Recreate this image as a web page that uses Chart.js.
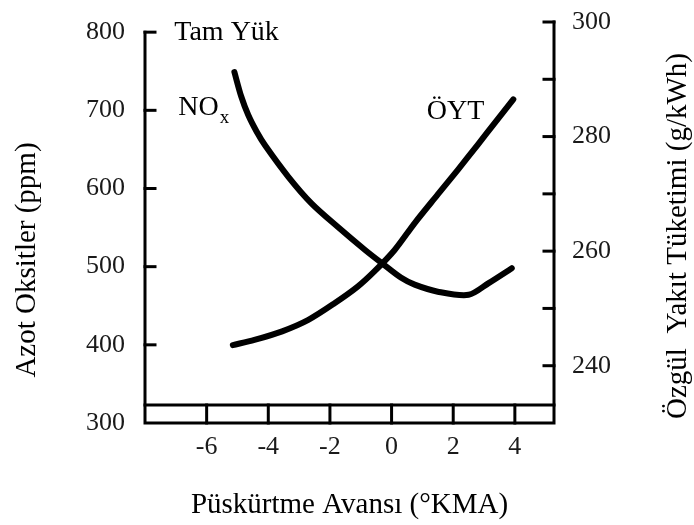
<!DOCTYPE html>
<html>
<head>
<meta charset="utf-8">
<script src="https://cdn.jsdelivr.net/npm/chart.js@4.4.1/dist/chart.umd.min.js"></script>
<style>
  html, body { margin: 0; padding: 0; background: #fff; }
  #wrap { width: 694px; height: 525px; }
</style>
</head>
<body>
<div id="wrap"><canvas id="c" width="694" height="525"></canvas></div>
<script>
// ---- data ----
const xNox = [-5.1, -4.88, -4.65, -4.38, -4.1, -3.35, -2.6, -1.75, -0.85, -0.3, 0.3, 0.75, 1.5, 2.5, 3.15, 3.9];
const nox  = [749, 718, 694, 673, 655, 615, 581, 551, 521, 504, 486, 477, 468, 464, 479, 498];
const xOyt = [-5.15, -4.45, -3.55, -2.7, -1.85, -1.1, -0.55, 0.1, 0.75, 1.5, 2.15, 2.8, 3.35, 3.95];
const oyt  = [243.6, 244.5, 246.0, 248.0, 250.9, 253.8, 256.5, 260.2, 264.9, 269.9, 274.2, 278.6, 282.4, 286.5];

const xTicks      = [-6, -4, -2, 0, 2, 4];
const leftTicks   = [300, 400, 500, 600, 700, 800];
const rightTicks  = [240, 260, 280, 300];
const rightMinor  = [240, 250, 260, 270, 280, 290, 300];

const xTitle = 'Püskürtme Avansı (°KMA)';
const leftTitle = 'Azot Oksitler (ppm)';
const rightTitle = 'Özgül  Yakıt Tüketimi (g/kWh)';
const loadLabel = 'Tam Yük';
const noxLabel = 'NO';
const noxSub = 'x';
const oytLabel = 'ÖYT';

// ---- chart ----
const FONT = '"Liberation Serif", "Times New Roman", serif';
Chart.defaults.font.family = FONT;
Chart.defaults.color = '#1a1a1a';

const toPts = (xs, ys) => xs.map((x, i) => ({ x: x, y: ys[i] }));

const framePlugin = {
  id: 'frame',
  afterDatasetsDraw(chart) {
    const ctx = chart.ctx;
    const xs = chart.scales.x, yl = chart.scales.yL, yr = chart.scales.yR;
    const ca = chart.chartArea;
    ctx.save();
    ctx.strokeStyle = '#000';
    ctx.lineCap = 'square';
    ctx.lineWidth = 3;
    // axis lines
    ctx.beginPath();
    ctx.moveTo(ca.left, yl.getPixelForValue(800));
    ctx.lineTo(ca.left, ca.bottom);
    ctx.lineTo(ca.right, ca.bottom);
    ctx.lineTo(ca.right, yr.getPixelForValue(300));
    ctx.stroke();
    // bottom strip line
    const stripY = yl.getPixelForValue(323);
    ctx.beginPath();
    ctx.moveTo(ca.left, stripY);
    ctx.lineTo(ca.right, stripY);
    ctx.stroke();
    // x tick marks across the strip
    xTicks.forEach(v => {
      const px = xs.getPixelForValue(v);
      ctx.beginPath();
      ctx.moveTo(px, stripY);
      ctx.lineTo(px, ca.bottom);
      ctx.stroke();
    });
    // inward ticks left
    leftTicks.filter(v => v > 300).forEach(v => {
      const py = yl.getPixelForValue(v);
      ctx.beginPath();
      ctx.moveTo(ca.left, py);
      ctx.lineTo(ca.left + 10, py);
      ctx.stroke();
    });
    // inward ticks right
    rightMinor.forEach(v => {
      const py = yr.getPixelForValue(v);
      ctx.beginPath();
      ctx.moveTo(ca.right, py);
      ctx.lineTo(ca.right - 10, py);
      ctx.stroke();
    });

    // annotations
    ctx.fillStyle = '#000';
    ctx.textBaseline = 'middle';
    ctx.textAlign = 'left';
    ctx.font = '28px ' + FONT;
    ctx.fillText(loadLabel, xs.getPixelForValue(-7.05), yl.getPixelForValue(800));
    const nx = xs.getPixelForValue(-6.92), ny = yl.getPixelForValue(704);
    ctx.fillText(noxLabel, nx, ny);
    const nw = ctx.measureText(noxLabel).width;
    ctx.font = '19px ' + FONT;
    ctx.fillText(noxSub, nx + nw + 1, ny + 11);
    ctx.font = '28px ' + FONT;
    ctx.fillText(oytLabel, xs.getPixelForValue(1.14), yr.getPixelForValue(284.4));

    // axis titles
    ctx.font = '29px ' + FONT;
    ctx.textAlign = 'center';
    ctx.fillText(xTitle, (ca.left + ca.right) / 2, 505);
    ctx.save();
    ctx.translate(27, 260);
    ctx.rotate(-Math.PI / 2);
    ctx.fillText(leftTitle, 0, 0);
    ctx.restore();
    ctx.save();
    ctx.translate(678, 236);
    ctx.rotate(-Math.PI / 2);
    ctx.fillText(rightTitle, 0, 0);
    ctx.restore();
    ctx.restore();
  }
};

const fitY = w => s => { s.width = w; s.paddingTop = 0; s.paddingBottom = 0; };

new Chart(document.getElementById('c'), {
  type: 'line',
  data: {
    datasets: [
      { label: 'NOx', data: toPts(xNox, nox), yAxisID: 'yL',
        borderColor: '#000', borderWidth: 6, pointRadius: 0, tension: 0.3,
        fill: false, borderCapStyle: 'round', borderJoinStyle: 'round' },
      { label: 'ÖYT', data: toPts(xOyt, oyt), yAxisID: 'yR',
        borderColor: '#000', borderWidth: 6, pointRadius: 0, tension: 0.3,
        fill: false, borderCapStyle: 'round', borderJoinStyle: 'round' }
    ]
  },
  options: {
    responsive: false,
    animation: false,
    events: [],
    layout: { padding: { top: 22, left: 0, right: 0, bottom: 0 } },
    plugins: { legend: { display: false }, tooltip: { enabled: false }, title: { display: false } },
    scales: {
      x: {
        type: 'linear', min: -8, max: 5.27,
        grid: { display: false, drawTicks: false },
        border: { display: false },
        afterBuildTicks: s => { s.ticks = xTicks.map(v => ({ value: v })); },
        afterFit: s => { s.height = 102; s.paddingLeft = 0; s.paddingRight = 0; },
        ticks: { font: { size: 26 }, padding: 9, color: '#1a1a1a', maxRotation: 0,
                 callback: v => String(v) }
      },
      yL: {
        type: 'linear', position: 'left', min: 300, max: 813,
        grid: { display: false, drawTicks: false },
        border: { display: false },
        afterBuildTicks: s => { s.ticks = leftTicks.map(v => ({ value: v })); },
        afterFit: fitY(145),
        ticks: { font: { size: 26 }, padding: 20, color: '#1a1a1a' }
      },
      yR: {
        type: 'linear', position: 'right', min: 230, max: 300,
        grid: { display: false, drawTicks: false },
        border: { display: false },
        afterBuildTicks: s => { s.ticks = rightTicks.map(v => ({ value: v })); },
        afterFit: fitY(140),
        ticks: { font: { size: 26 }, padding: 18, color: '#1a1a1a' }
      }
    }
  },
  plugins: [framePlugin]
});
</script>
</body>
</html>
